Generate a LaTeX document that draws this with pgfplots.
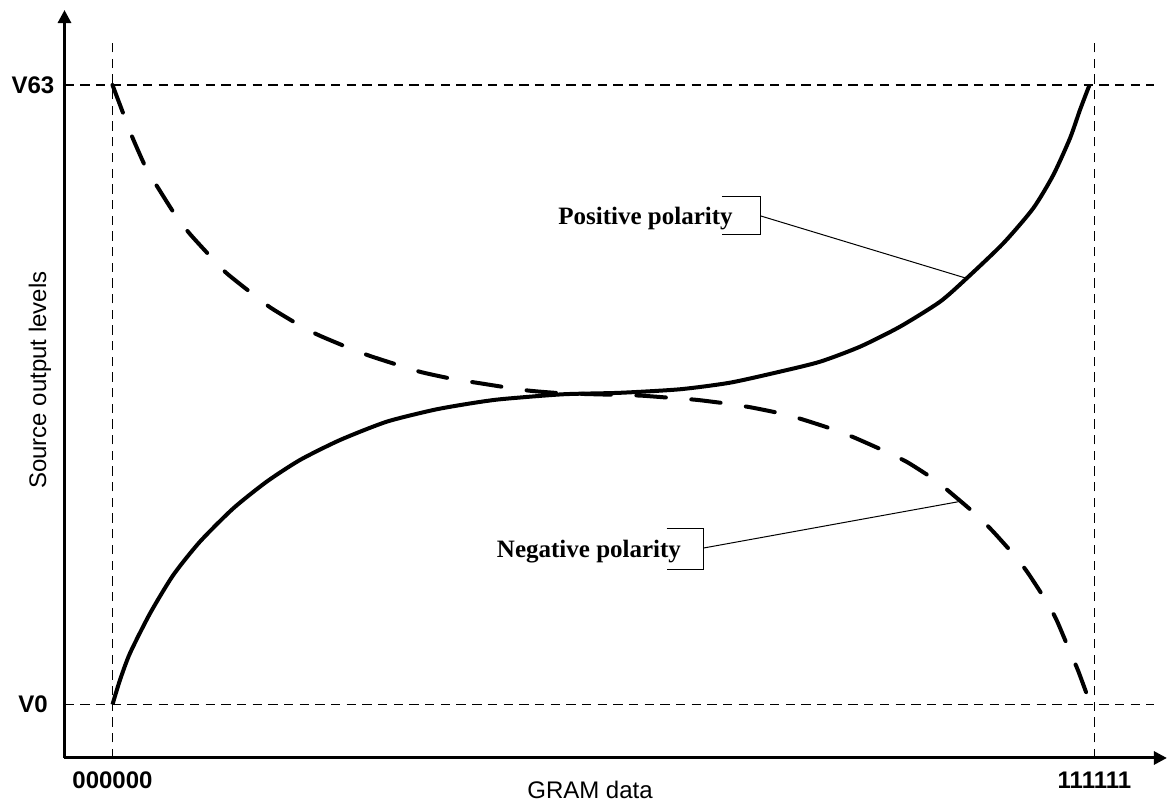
\documentclass[border=0pt]{standalone}
\usepackage{fontspec}
\setmainfont{Liberation Sans}
\newfontfamily\annfont{Liberation Serif}
\usepackage{pgfplots}
\pgfplotsset{compat=1.18}
\usetikzlibrary{arrows.meta}

\begin{document}
\begin{tikzpicture}
\begin{axis}[
  x=7.7935pt, y=4.9165pt,
  xmin=-3.08, xmax=67.65, ymin=-5.44, ymax=70.63,
  axis lines=left,
  axis line style={line width=1.5pt, -{Triangle[length=6.5pt,width=6.5pt]}},
  xtick={0,63}, xticklabels={000000,111111},
  ytick={0,63}, yticklabels={V0,V63},
  major tick length=0pt,
  ticklabel style={font=\bfseries\fontsize{12}{14}\selectfont},
  xticklabel style={anchor=center, yshift=-11pt},
  yticklabel style={anchor=center, xshift=-15.75pt},
  xlabel={GRAM data}, ylabel={Source output levels},
  label style={font=\fontsize{12}{14}\selectfont},
  xlabel style={at={(axis description cs:0.4767,-0.0429)}, anchor=center},
  ylabel style={at={(axis description cs:-0.0222,0.5053)}, anchor=center},
  clip=false,
]
% reference lines
\addplot[black, line width=0.75pt, dash pattern=on 4.67pt off 3.17pt] coordinates {(0,-5.44) (0,67.85)};
\addplot[black, line width=0.75pt, dash pattern=on 4.67pt off 3.17pt] coordinates {(63,-5.44) (63,67.85)};
\addplot[black, line width=0.75pt, dash pattern=on 4.67pt off 3.17pt] coordinates {(-3.08,63) (66.82,63)};
\addplot[black, line width=0.75pt, dash pattern=on 4.67pt off 3.17pt] coordinates {(-3.08,0) (66.82,0)};

% positive polarity
\addplot[black, line width=2pt, line join=round, smooth, tension=0.4] coordinates {
(0,0) (0.48,2.49) (1.12,5.21) (2.41,9.27) (3.90,13.17) (5.61,16.56) (7.75,19.95)
(9.89,22.66) (12.03,24.87) (14.60,26.90) (17.59,28.76) (20.58,29.95) (22.72,30.56)
(24.86,31.04) (28.90,31.55) (32.56,31.70) (36.41,32.06) (39.62,32.73) (42.82,33.85)
(45.39,34.86) (47.96,36.39) (50.52,38.42) (53.09,40.96) (54.80,43.34) (57.15,46.90)
(59.07,50.46) (60.36,53.85) (61.43,57.58) (62.07,60.46) (62.68,63.00)
};

% negative polarity
\addplot[black, line width=2pt, line cap=round, line join=round, smooth, tension=0.4, dash pattern=on 14.75pt off 12.75pt] coordinates {
(0,63) (0.80,59.64) (1.33,57.48) (2.19,54.43) (2.94,52.50) (4.07,49.68) (4.97,47.85)
(6.36,45.44) (7.33,43.85) (8.99,41.75) (10.15,40.35) (11.97,38.60) (13.20,37.58)
(15.13,36.29) (16.48,35.47) (18.51,34.43) (19.84,33.79) (21.86,33.10) (23.58,32.67)
(25.39,32.22) (26.78,31.91) (28.90,31.65) (32.56,31.48) (34.03,31.40) (36.20,31.14)
(37.56,30.97) (39.62,30.56) (41.09,30.18) (43.14,29.51) (44.54,28.86) (46.56,27.81)
(47.85,26.97) (49.77,25.61) (51.05,24.59) (52.77,22.83) (53.94,21.31) (55.44,19.27)
(56.51,17.57) (57.90,15.10) (58.75,13.34) (59.93,10.45) (60.57,8.59) (61.43,5.37)
(61.96,3.41) (62.75,0)
};

% annotations
\draw[line width=0.5pt] (axis cs:39.10,51.71) -- (axis cs:41.60,51.71) -- (axis cs:41.60,47.75) -- (axis cs:39.10,47.75);
\draw[line width=0.5pt] (axis cs:41.60,49.68) -- (axis cs:54.80,43.34);
\node[font=\annfont\bfseries\fontsize{12.5}{14}\selectfont, anchor=base, inner sep=0pt] at (axis cs:34.20,48.84) {Positive polarity};

\draw[line width=0.5pt] (axis cs:35.55,17.85) -- (axis cs:37.94,17.85) -- (axis cs:37.94,13.73) -- (axis cs:35.55,13.73);
\draw[line width=0.5pt] (axis cs:37.94,15.92) -- (axis cs:54.26,20.62);
\node[font=\annfont\bfseries\fontsize{12.5}{14}\selectfont, anchor=base, inner sep=0pt] at (axis cs:30.57,14.95) {Negative polarity};

\coordinate (bbSW) at (axis cs:-7.218,-10.12);
\coordinate (bbNE) at (axis cs:67.72,71.65);
\end{axis}
\pgfresetboundingbox
\useasboundingbox (bbSW) rectangle (bbNE);
\end{tikzpicture}
\end{document}
